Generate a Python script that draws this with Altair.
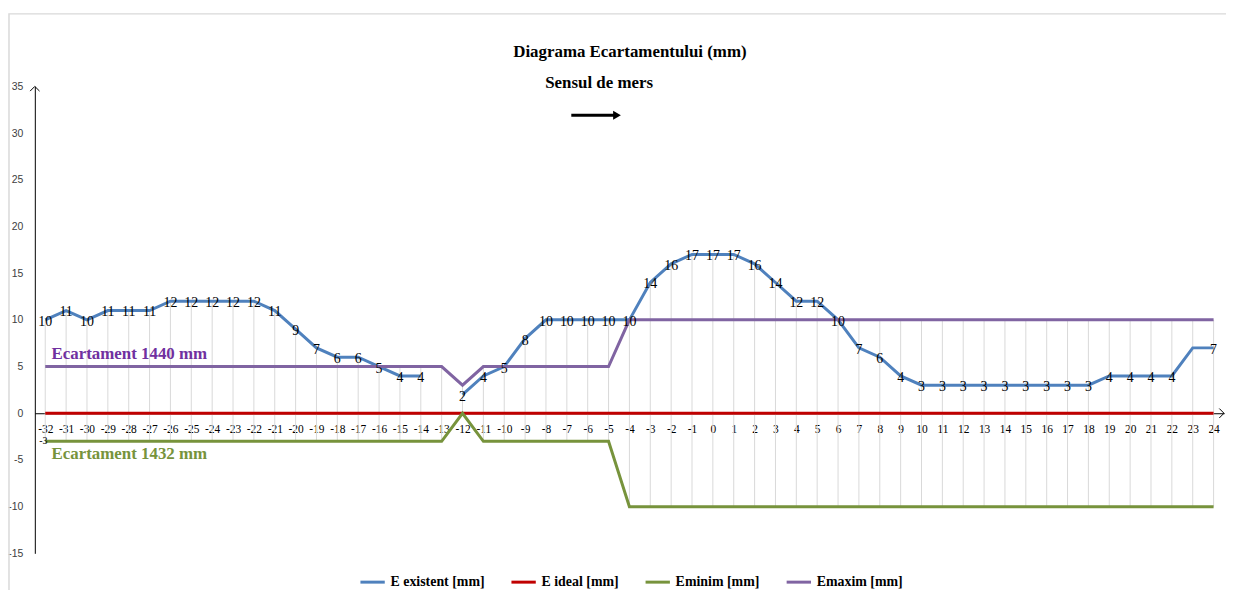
import altair as alt
import pandas as pd
import numpy as np

# ---------------- data ----------------
km = list(range(-32, 25))
e_existent = [10, 11, 10, 11, 11, 11, 12, 12, 12, 12, 12, 11, 9, 7, 6, 6, 5, 4, 4, None,
              2, 4, 5, 8, 10, 10, 10, 10, 10,
              14, 16, 17, 17, 17, 16, 14, 12, 12, 10,
              7, 6, 4,
              3, 3, 3, 3, 3, 3, 3, 3, 3,
              4, 4, 4, 4, 7, 7]
e_labels = [10, 11, 10, 11, 11, 11, 12, 12, 12, 12, 12, 11, 9, 7, 6, 6, 5, 4, 4, None,
            2, 4, 5, 8, 10, 10, 10, 10, 10,
            14, 16, 17, 17, 17, 16, 14, 12, 12, 10,
            7, 6, 4,
            3, 3, 3, 3, 3, 3, 3, 3, 3,
            4, 4, 4, 4, None, 7]
e_ideal = [0, 0, 0, 0, 0, 0, 0, 0, 0, 0, 0, 0, 0, 0, 0, 0, 0, 0, 0, 0,
           0, 0, 0, 0, 0, 0, 0, 0, 0, 0, 0, 0, 0, 0, 0, 0, 0, 0, 0, 0,
           0, 0, 0, 0, 0, 0, 0, 0, 0, 0, 0, 0, 0, 0, 0, 0, 0]
e_minim = [-3, -3, -3, -3, -3, -3, -3, -3, -3, -3, -3, -3, -3, -3, -3, -3, -3, -3, -3, -3,
           0, -3, -3, -3, -3, -3, -3, -3,
           -10, -10, -10, -10, -10, -10, -10, -10, -10, -10, -10, -10, -10, -10, -10,
           -10, -10, -10, -10, -10, -10, -10, -10, -10, -10, -10, -10, -10, -10]
e_maxim = [5, 5, 5, 5, 5, 5, 5, 5, 5, 5, 5, 5, 5, 5, 5, 5, 5, 5, 5, 5,
           3, 5, 5, 5, 5, 5, 5, 5,
           10, 10, 10, 10, 10, 10, 10, 10, 10, 10, 10, 10, 10, 10, 10,
           10, 10, 10, 10, 10, 10, 10, 10, 10, 10, 10, 10, 10, 10]
series_names = ["E existent [mm]", "E ideal [mm]", "Eminim [mm]", "Emaxim [mm]"]
series_colors = ["#4F81BD", "#C00000", "#77933C", "#8064A2"]
y_ticks = [-15, -10, -5, 0, 5, 10, 15, 20, 25, 30, 35]

# ---------------- tables ----------------
rows = []
for name, vals in zip(series_names, [e_existent, e_ideal, e_minim, e_maxim]):
    seg = 0
    for k, v in zip(km, vals):
        if v is None:
            seg += 1
            continue
        rows.append({"km": k, "val": v, "series": name, "seg": seg})
long_df = pd.DataFrame(rows)

wide = pd.DataFrame({
    "km": km,
    "a": [np.nan if v is None else v for v in e_existent],
    "b": e_ideal, "c": e_minim, "d": e_maxim,
})
wide["hi"] = wide[["a", "b", "c", "d"]].max(axis=1)
wide["lo"] = wide[["a", "b", "c", "d"]].min(axis=1)

lab_df = pd.DataFrame({"km": km, "lab": e_labels})
lab_df = lab_df.dropna()
lab_df["lab"] = lab_df["lab"].astype(int)

minlab_df = pd.DataFrame({"km": [km[0]], "val": [e_minim[0]], "lab": [str(e_minim[0])]})

W, H = 1197, 470
SERIF = "Liberation Serif"

xscale = alt.Scale(domain=[-32.5, 24.5], nice=False, zero=False)
yscale = alt.Scale(domain=[-15, 35], nice=False, zero=False)

x_axis = alt.Axis(values=km, labelExpr="'' + datum.value", title=None, grid=False,
                  ticks=False, domain=True, domainColor="#000000", domainWidth=1,
                  labelFont=SERIF, labelFontSize=11.5, labelColor="#000000",
                  labelPadding=10, labelFlush=False, labelOverlap=False,
                  offset=-141)
y_axis = alt.Axis(values=y_ticks, labelExpr="'' + datum.value", title=None, grid=False,
                  ticks=False, domain=True, domainColor="#000000", domainWidth=1,
                  labelFont="Liberation Sans", labelFontSize=10.5,
                  labelColor="#404040", labelPadding=12, labelOverlap=False)


def X():
    return alt.X("km:Q", scale=xscale, axis=x_axis)


def Y(field):
    return alt.Y(field, scale=yscale, axis=y_axis)


hilo = alt.Chart(wide).mark_rule(color="#D9D9D9", strokeWidth=1).encode(
    x=X(), y=Y("hi:Q"), y2="lo:Q",
)

lines = alt.Chart(long_df).mark_line(strokeWidth=3).encode(
    x=X(),
    y=Y("val:Q"),
    color=alt.Color("series:N",
                    scale=alt.Scale(domain=series_names, range=series_colors),
                    sort=series_names,
                    legend=alt.Legend(title=None, orient="none", legendX=326, legendY=485,
                                      direction="horizontal", symbolType="stroke",
                                      symbolStrokeWidth=3, symbolSize=600,
                                      labelFont=SERIF, labelFontSize=14,
                                      labelFontWeight="bold", labelColor="#000000",
                                      columnPadding=20, labelLimit=300, padding=0)),
    detail="seg:N",
    order="km:Q",
)

labels = alt.Chart(lab_df).mark_text(font=SERIF, fontSize=14, color="#000000",
                                     baseline="middle", align="center", dy=2).encode(
    x=X(), y=Y("lab:Q"), text="lab:N",
)

minlab = alt.Chart(minlab_df).mark_text(font=SERIF, fontSize=10, color="#000000",
                                        baseline="middle", align="center", dx=-2).encode(
    x=X(), y=Y("val:Q"), text="lab:N",
)

ann_df = pd.DataFrame({
    "km": [-31.7, -31.7],
    "val": [6.3, -4.4],
    "txt": ["Ecartament  1440 mm", "Ecartament  1432 mm"],
    "col": ["#7030A0", "#77933C"],
})
ann = alt.Chart(ann_df).mark_text(font=SERIF, fontSize=17, fontWeight="bold",
                                  align="left", baseline="middle").encode(
    x=X(), y=Y("val:Q"), text="txt:N",
    color=alt.Color("col:N", scale=None, legend=None),
)

arrow_df = pd.DataFrame({"km": [-32.5, 24.5], "val": [35, 0]})
yarrow = alt.Chart(arrow_df.iloc[[0]]).mark_point(
    shape="M-1,1L0,0L1,1", filled=False, size=90, color="#000000",
    strokeWidth=1, opacity=1).encode(x=X(), y=Y("val:Q"))
xarrow = alt.Chart(arrow_df.iloc[[1]]).mark_point(
    shape="M-1,-1L0,0L-1,1", filled=False, size=90, color="#000000",
    strokeWidth=1, opacity=1).encode(x=X(), y=Y("val:Q"))

one = pd.DataFrame({"a": [0]})
title_t = alt.Chart(one).mark_text(text="Diagrama Ecartamentului (mm)", font=SERIF,
                                   fontSize=17, fontWeight="bold", color="#000000",
                                   align="center", baseline="middle").encode(
    x=alt.value(599), y=alt.value(-35))
sub_t = alt.Chart(one).mark_text(text="Sensul de mers", font=SERIF,
                                 fontSize=17, fontWeight="bold", color="#000000",
                                 align="center", baseline="middle").encode(
    x=alt.value(568), y=alt.value(-3))
dir_line = alt.Chart(one).mark_rule(color="#000000", strokeWidth=3).encode(
    x=alt.value(540), x2=alt.value(584), y=alt.value(29))
dir_head = alt.Chart(one).mark_point(shape="triangle-right", filled=True, size=80,
                                     color="#000000", opacity=1).encode(
    x=alt.value(586), y=alt.value(29))
border = alt.Chart(one).mark_rect(fill=None, stroke="#D9D9D9", strokeWidth=1.5).encode(
    x=alt.value(-26), x2=alt.value(1260), y=alt.value(-73), y2=alt.value(600))

chart = alt.layer(
    border, hilo, lines, labels, minlab, ann, yarrow, xarrow,
    title_t, sub_t, dir_line, dir_head
).properties(
    width=W, height=H,
    autosize=alt.AutoSizeParams(type="none"),
    padding={"left": 27, "top": 77, "right": 2, "bottom": 35},
).configure_view(stroke=None)

chart.save("out.html", embed_options={"renderer": "svg", "actions": False})
